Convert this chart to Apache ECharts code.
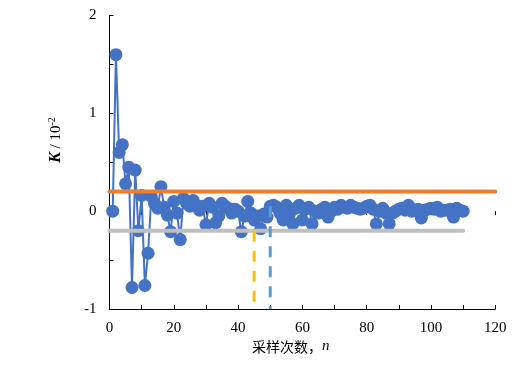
<!DOCTYPE html>
<html>
<head>
<meta charset="utf-8">
<script src="https://cdn.jsdelivr.net/npm/echarts@6/dist/echarts.min.js"></script>
<style>html,body{margin:0;padding:0;background:#fff}#c{width:530px;height:372px}</style>
</head>
<body>
<div id="c"></div>
<script>
// K values (×10^-2) for sampling count n = 1..110
const kValues = [
  0, 1.6, 0.6, 0.68, 0.28, 0.45, -0.78, 0.42, -0.2, 0.16,
  -0.76, -0.43, 0.15, 0.08, 0.03, 0.25, 0.04, -0.04, -0.21, 0.1,
  -0.02, -0.29, 0.13, 0.08, 0.05, 0.11, 0.06, 0.01, 0.05, -0.14,
  0.08, 0.04, -0.12, -0.05, 0.08, 0.05, 0.03, -0.02, 0.02, 0,
  -0.21, -0.05, 0.1, -0.02, -0.09, -0.05, -0.18, -0.03, -0.06, 0.05,
  0.06, 0.04, -0.02, -0.09, 0.06, -0.02, -0.13, 0.03, 0.06, -0.09,
  0.02, 0.04, -0.13, 0, -0.02, 0.02, 0.04, -0.06, 0, 0.04,
  0.02, 0.06, 0.04, 0.03, 0.06, 0.04, 0.03, 0.02, 0.03, 0.05,
  0.06, 0.02, -0.13, 0, 0.03, -0.02, -0.13, -0.02, 0, 0.02,
  0.03, 0.01, 0.06, 0, 0.01, 0.02, -0.07, 0.01, 0.02, 0.03,
  0.02, 0.04, 0, 0.01, 0.01, 0.02, -0.06, 0.03, 0.01, 0
];
const sampleN = kValues.map((_, i) => i + 1);
const upperLimit = 0.2;   // orange line
const lowerLimit = -0.2;  // gray line
const upperEndN = 120;
const lowerEndN = 110;
const markerA = { n: 45, top: -0.2, bottom: -1 };  // yellow dashed
const markerB = { n: 50, top: 0.05, bottom: -1 };  // blue dashed
const xTicks = [0, 20, 40, 60, 80, 100, 120];
const yTicks = [-1, 0, 1, 2];

const serif = '"Liberation Serif", "DejaVu Serif", serif';
const chart = echarts.init(document.getElementById('c'), null, { renderer: 'canvas' });
const axisLineStyle = { color: '#000', width: 1 };

chart.setOption({
  animation: false,
  grid: { left: 109.5, right: 34.7, top: 15.5, bottom: 63, containLabel: false },
  xAxis: [{
    type: 'value', min: 0, max: 120, interval: 10,
    axisLine: { show: true, onZero: false, lineStyle: axisLineStyle },
    axisTick: { show: true, inside: true, length: 4, lineStyle: axisLineStyle },
    axisLabel: {
      color: '#000', fontFamily: serif, fontSize: 15, margin: 12,
      formatter: v => xTicks.includes(v) ? String(v) : ''
    },
    splitLine: { show: false }
  }, {
    type: 'value', min: 0, max: 120, interval: 10, position: 'bottom',
    axisLine: { show: false },
    axisTick: { show: true, inside: false, length: 4, lineStyle: axisLineStyle },
    axisLabel: { show: false },
    splitLine: { show: false }
  }],
  yAxis: {
    type: 'value', min: -1, max: 2, interval: 0.5,
    axisLine: { show: true, onZero: false, lineStyle: axisLineStyle },
    axisTick: { show: true, inside: true, length: 4, lineStyle: axisLineStyle },
    axisLabel: {
      color: '#000', fontFamily: serif, fontSize: 15, margin: 13,
      formatter: v => yTicks.includes(v) ? String(v) : ''
    },
    splitLine: { show: false }
  },
  graphic: [
    {
      type: 'text', left: 252, top: 339,
      style: {
        text: '{c|采样次数，}{n|n}',
        rich: {
          c: { fontFamily: '"Noto Sans CJK SC", sans-serif', fontSize: 14, fill: '#000' },
          n: { fontFamily: serif, fontStyle: 'italic', fontSize: 15, fill: '#000' }
        }
      }
    },
    {
      type: 'text', x: 56, y: 140, rotation: Math.PI / 2,
      style: {
        text: '{k|K}{t| / 10}{s|-2}',
        align: 'center', verticalAlign: 'middle',
        rich: {
          k: { fontFamily: serif, fontStyle: 'italic', fontWeight: 'bold', fontSize: 16, fill: '#000' },
          t: { fontFamily: serif, fontSize: 15, fill: '#000' },
          s: { fontFamily: serif, fontSize: 10, fill: '#000', verticalAlign: 'top', padding: [0, 0, 8, 0] }
        }
      }
    }
  ],
  series: [
    {
      type: 'line', name: 'K',
      data: sampleN.map((n, i) => [n, kValues[i]]),
      symbol: 'circle', symbolSize: 13,
      lineStyle: { color: '#4472C4', width: 2 },
      itemStyle: { color: '#4472C4' },
      z: 2
    },
    {
      type: 'line', data: [[0, upperLimit], [upperEndN, upperLimit]],
      symbol: 'none', clip: false,
      lineStyle: { color: '#ED7D31', width: 4, cap: 'round' }, z: 3
    },
    {
      type: 'line', data: [[0, lowerLimit], [lowerEndN, lowerLimit]],
      symbol: 'none', clip: false,
      lineStyle: { color: '#BFBFBF', width: 4, cap: 'round' }, z: 3
    },
    {
      type: 'line', data: [[markerA.n, markerA.top], [markerA.n, markerA.bottom]],
      symbol: 'none',
      lineStyle: { color: '#FFC000', width: 3, type: [11, 9] }, z: 4
    },
    {
      type: 'line', data: [[markerB.n, markerB.top], [markerB.n, markerB.bottom]],
      symbol: 'none',
      lineStyle: { color: '#5B9BD5', width: 3, type: [11, 9] }, z: 4
    }
  ]
});
</script>
</body>
</html>
